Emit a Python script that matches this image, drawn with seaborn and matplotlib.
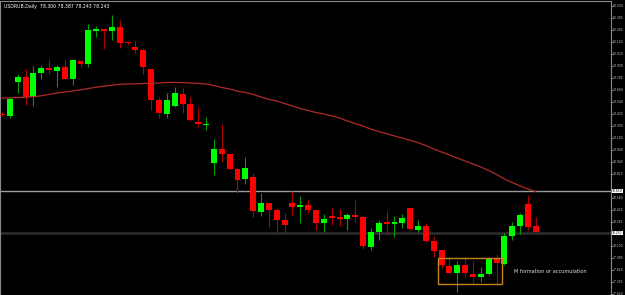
import numpy as np
import pandas as pd
import matplotlib
matplotlib.use("Agg")
import matplotlib.pyplot as plt
import seaborn as sns

# daily candles (oldest first)
opens = [79.42, 79.403, 79.74, 79.787, 79.593, 79.827, 79.877, 79.853, 79.887, 79.77,
         79.95, 79.923, 80.253, 80.27, 80.25, 80.29, 80.143, 80.09, 80.06, 79.87,
         79.56, 79.423, 79.50, 79.62, 79.52, 79.337, 79.307, 78.93, 79.07, 79.02,
         78.87, 78.767, 78.793, 78.443, 78.53, 78.46, 78.363, 78.53, 78.493, 78.513,
         78.46, 78.333, 78.393, 78.38, 78.373, 78.41, 78.393, 78.09, 78.243, 78.33,
         78.32, 78.33, 78.48, 78.263, 78.303, 78.153, 78.06, 77.90, 77.827, 77.91,
         77.823, 77.787, 77.823, 77.967, 77.92, 78.20, 78.30, 78.52, 78.30]
highs = [79.44, 79.587, 79.82, 79.87, 79.90, 79.91, 79.97, 79.91, 79.96, 79.96,
         79.95, 80.32, 80.303, 80.27, 80.413, 80.36, 80.143, 80.15, 80.083, 79.87,
         79.593, 79.627, 79.687, 79.683, 79.587, 79.493, 79.393, 79.17, 79.32, 79.02,
         78.893, 78.993, 78.833, 78.633, 78.53, 78.483, 78.427, 78.65, 78.603, 78.56,
         78.46, 78.42, 78.493, 78.47, 78.433, 78.56, 78.41, 78.28, 78.36, 78.45,
         78.403, 78.42, 78.493, 78.36, 78.327, 78.20, 78.06, 77.993, 77.95, 77.987,
         77.95, 77.893, 77.993, 78.02, 78.227, 78.337, 78.427, 78.61, 78.387]
lows = [79.40, 79.38, 79.633, 79.51, 79.50, 79.773, 79.82, 79.693, 79.76, 79.71,
        79.887, 79.893, 80.193, 80.07, 80.16, 80.08, 80.11, 80.033, 79.82, 79.46,
        79.377, 79.377, 79.493, 79.427, 79.353, 79.287, 79.26, 78.81, 78.943, 78.86,
        78.627, 78.72, 78.387, 78.40, 78.293, 78.243, 78.22, 78.41, 78.333, 78.427,
        78.26, 78.243, 78.31, 78.303, 78.26, 78.337, 78.07, 78.06, 78.16, 78.21,
        78.193, 78.28, 78.26, 78.243, 78.143, 77.993, 77.877, 77.82, 77.643, 77.793,
        77.727, 77.743, 77.81, 77.71, 77.91, 78.16, 78.22, 78.26, 78.243]
closes = [79.41, 79.573, 79.787, 79.593, 79.827, 79.88, 79.863, 79.89, 79.773, 79.957,
          79.923, 80.257, 80.267, 80.253, 80.29, 80.133, 80.13, 80.06, 79.893, 79.56,
          79.433, 79.557, 79.627, 79.52, 79.36, 79.317, 79.323, 79.07, 79.02, 78.87,
          78.763, 78.88, 78.45, 78.53, 78.46, 78.36, 78.31, 78.493, 78.513, 78.46,
          78.333, 78.37, 78.383, 78.373, 78.41, 78.39, 78.10, 78.24, 78.327, 78.323,
          78.337, 78.38, 78.267, 78.303, 78.153, 78.053, 77.907, 77.827, 77.91, 77.833,
          77.787, 77.823, 77.967, 77.927, 78.20, 78.30, 78.41, 78.293, 78.243]
# moving average shown as the red curve
ma = [79.578, 79.581, 79.584, 79.588, 79.593, 79.602, 79.616, 79.63, 79.64, 79.65,
      79.662, 79.675, 79.688, 79.698, 79.707, 79.717, 79.72, 79.722, 79.725, 79.727,
      79.73, 79.735, 79.736, 79.734, 79.73, 79.727, 79.72, 79.705, 79.685, 79.67,
      79.648, 79.635, 79.615, 79.59, 79.567, 79.55, 79.525, 79.50, 79.475, 79.455,
      79.435, 79.42, 79.402, 79.38, 79.35, 79.325, 79.30, 79.268, 79.245, 79.223,
      79.20, 79.18, 79.157, 79.133, 79.105, 79.07, 79.04, 79.01, 78.98, 78.95,
      78.92, 78.89, 78.855, 78.815, 78.77, 78.735, 78.70, 78.67, 78.645]

level_upper = 78.65
level_lower = 78.23
box_start, box_end = 55.6, 63.65
box_low, box_high = 77.72, 77.977
note_text = "M formation or accumulation"
title_text = "USDRUB,Daily  78.300 78.387 78.243 78.243"
y_ticks = [80.50 - 0.12 * k for k in range(25)]

df = pd.DataFrame({"day": np.arange(len(opens)), "open": opens, "high": highs,
                   "low": lows, "close": closes, "ma": ma})
df["up"] = df["close"] >= df["open"]

sns.set_style("dark", {"axes.facecolor": "black", "figure.facecolor": "black"})
plt.rcParams['font.family'] = ['DejaVu Sans']

fig = plt.figure(figsize=(6.25, 2.95), dpi=100)
ax = fig.add_axes([0.0, 0.0, 611 / 625, 294 / 295])
ax.set_facecolor("black")

# horizontal levels
ax.axhline(level_upper, color="#9a9a9a", lw=1.0, zorder=1)
ax.axhline(level_lower, color="#2e2e2e", lw=1.8, zorder=1)

# wicks
for up, col in [(True, "#00a000"), (False, "#b00000")]:
    sub = df[df["up"] == up]
    ax.vlines(sub["day"], sub["low"], sub["high"], color=col, lw=0.8, zorder=2)
# bodies
for up, col in [(True, "#00ff00"), (False, "#ff0000")]:
    sub = df[df["up"] == up]
    bottom = np.minimum(sub["open"], sub["close"])
    height = np.maximum((sub["close"] - sub["open"]).abs(), 0.012)
    ax.bar(sub["day"], height, bottom=bottom, width=0.76, color=col,
           linewidth=0, zorder=3)

sns.lineplot(data=df, x="day", y="ma", color="#b02a2a", lw=0.9, ax=ax, zorder=4)

# highlighted pattern box
ax.add_patch(plt.Rectangle((box_start, box_low), box_end - box_start, box_high - box_low,
                           fill=False, edgecolor="#c8861a", lw=1.0, zorder=5))
ax.text(65.2, 77.845, note_text, color="#e0e0e0", fontsize=3.6, va="center", ha="left")

ax.set_xlim(-0.255, 77.58)
ax.set_ylim(77.61, 80.55)
ax.set_xlabel("")
ax.set_ylabel("")
ax.set_xticks([])
ax.yaxis.tick_right()
# the level tags cover the tick label under them, as in the terminal
shown = [v for v in y_ticks if min(abs(v - level_upper), abs(v - level_lower)) > 0.05]
ax.set_yticks(shown)
ax.set_yticklabels([f"{v:.3f}" for v in shown])
ax.tick_params(axis="y", colors="#c8c8c8", labelsize=2.2, length=1.2, width=0.5, pad=0.4)
ax.grid(False)
for side in ["left", "top", "right"]:
    ax.spines[side].set_visible(True)
    ax.spines[side].set_color("#8a8a8a")
    ax.spines[side].set_linewidth(0.8)
ax.spines["bottom"].set_visible(False)

# price tags for the two levels
for lvl in [level_upper, level_lower]:
    ax.text(1.002, lvl, f"{lvl:.3f}", transform=ax.get_yaxis_transform(),
            fontsize=2.2, color="black", va="center", ha="left",
            bbox=dict(boxstyle="square,pad=0.12", fc="white", ec="none"))

fig.text(0.006, 0.985, title_text, color="white", fontsize=3.3, va="top", ha="left")

fig.savefig("out.png", dpi=100, facecolor="black")
